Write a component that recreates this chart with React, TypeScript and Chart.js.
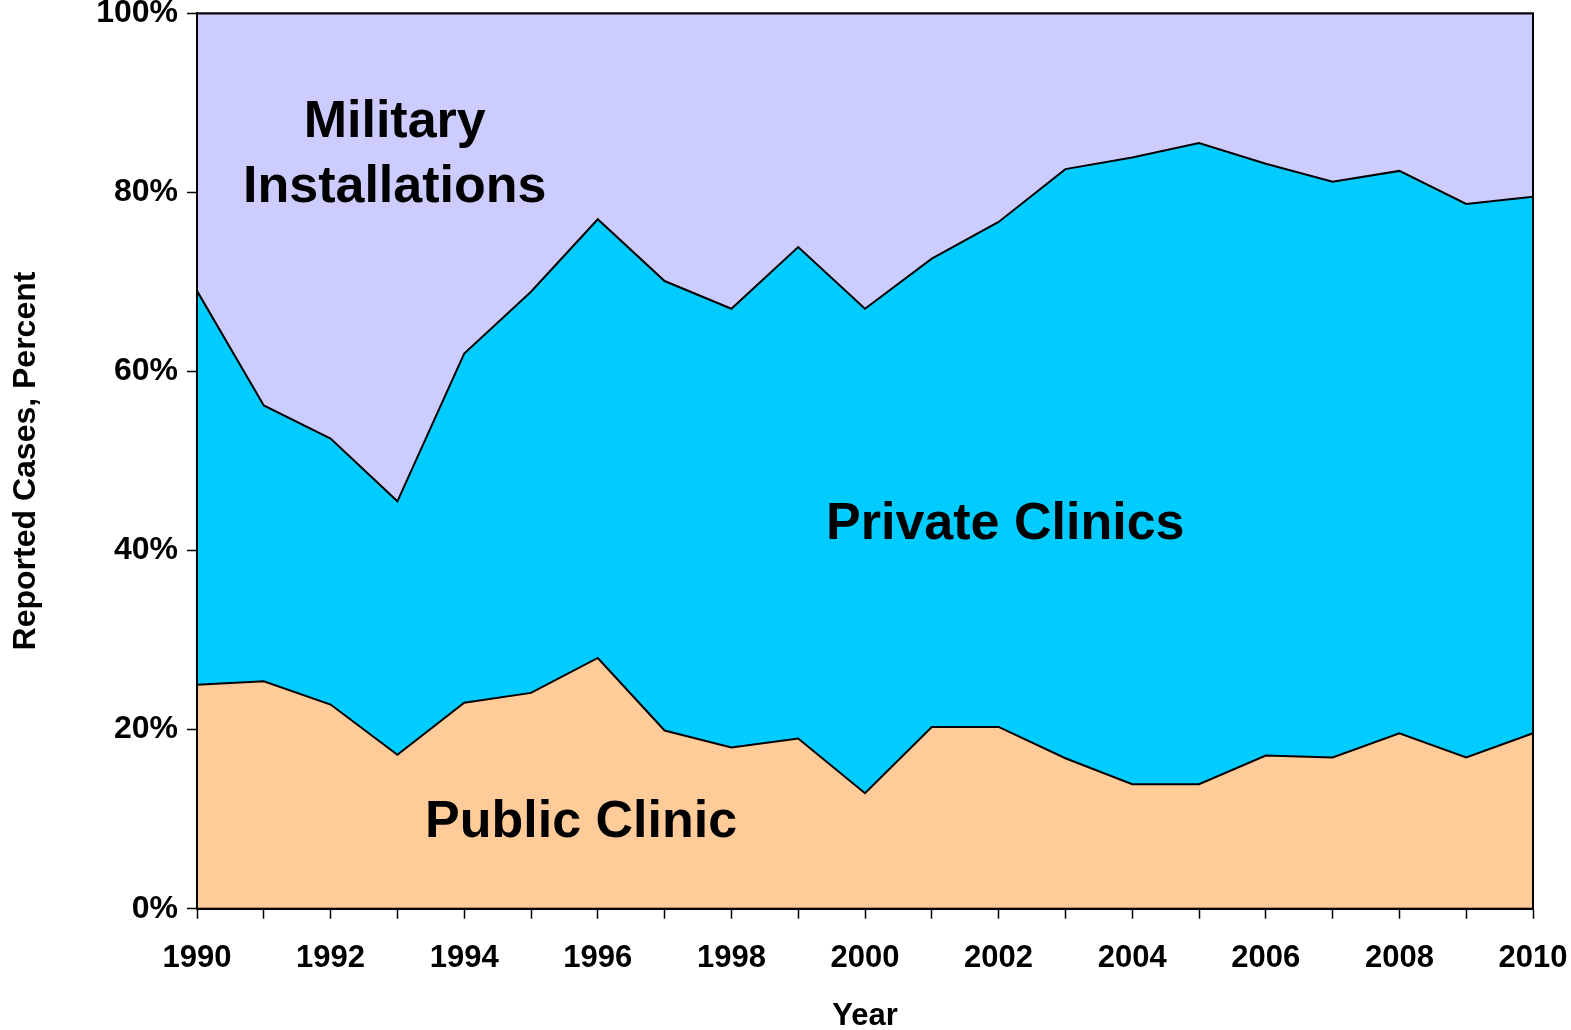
import React, { useEffect, useRef } from "react";
import { Chart, registerables } from "chart.js";

Chart.register(...registerables);

const years = [
  "1990", "1991", "1992", "1993", "1994", "1995", "1996", "1997", "1998", "1999",
  "2000", "2001", "2002", "2003", "2004", "2005", "2006", "2007", "2008", "2009", "2010",
];

const publicClinic = [
  25.0, 25.4, 22.8, 17.2, 23.0, 24.1, 28.0, 19.9, 18.0, 19.0,
  12.9, 20.3, 20.3, 16.8, 13.9, 13.9, 17.1, 16.9, 19.6, 16.9, 19.6,
];

const privateClinics = [
  44.0, 30.8, 29.7, 28.3, 39.0, 44.8, 49.0, 50.2, 49.0, 54.9,
  54.1, 52.3, 56.4, 65.8, 70.0, 71.6, 66.1, 64.3, 62.8, 61.8, 59.9,
];

const militaryInstallations = [
  31.0, 43.8, 47.5, 54.5, 38.0, 31.1, 23.0, 29.9, 33.0, 26.1,
  33.0, 27.4, 23.3, 17.4, 16.1, 14.5, 16.8, 18.8, 17.6, 21.3, 20.5,
];

const seriesNames = ["Public Clinic", "Private Clinics", "Military Installations"];
const seriesColors = ["#FFCC99", "#00CCFF", "#CCCCFF"];

const yTickValues = [0, 20, 40, 60, 80, 100];

const FONT = '"Liberation Sans", Arial, Helvetica, sans-serif';

// in-chart area labels, anchored in data units (category index, percent)
const areaLabels = [
  { text: "Military", x: 2.96, y: 87.8 },
  { text: "Installations", x: 2.96, y: 80.5 },
  { text: "Private Clinics", x: 12.1, y: 42.9 },
  { text: "Public Clinic", x: 5.75, y: 9.6 },
];

const areaLabelPlugin = {
  id: "areaLabelPlugin",
  afterDatasetsDraw(chart: any) {
    const { ctx, chartArea, scales } = chart;
    const xs = scales.x;
    const ys = scales.y;
    ctx.save();
    // chart area frame
    ctx.strokeStyle = "#000";
    ctx.lineWidth = 2;
    ctx.strokeRect(chartArea.left, chartArea.top, chartArea.right - chartArea.left, chartArea.bottom - chartArea.top);
    ctx.fillStyle = "#000";
    ctx.font = `bold 52px ${FONT}`;
    ctx.textAlign = "center";
    ctx.textBaseline = "middle";
    for (const l of areaLabels) {
      ctx.fillText(l.text, xs.getPixelForValue(l.x), ys.getPixelForValue(l.y));
    }
    ctx.restore();
  },
};

export default function App() {
  const canvasRef = useRef<HTMLCanvasElement | null>(null);

  useEffect(() => {
    if (!canvasRef.current) return;
    const seriesData = [publicClinic, privateClinics, militaryInstallations];
    const chart = new Chart(canvasRef.current, {
      type: "line",
      data: {
        labels: years,
        datasets: seriesData.map((d, i) => ({
          label: seriesNames[i],
          data: d,
          backgroundColor: seriesColors[i],
          borderColor: "#000",
          borderWidth: 2,
          pointRadius: 0,
          tension: 0,
          fill: i === 0 ? "origin" : "-1",
        })),
      },
      options: {
        responsive: false,
        animation: false,
        events: [],
        layout: { padding: { top: 13.3, right: 38, left: 0, bottom: 0 } },
        plugins: {
          legend: { display: false },
          tooltip: { enabled: false },
        },
        scales: {
          x: {
            type: "category",
            offset: false,
            grid: {
              display: true,
              drawOnChartArea: false,
              drawTicks: true,
              tickLength: 10,
              tickColor: "#000",
              tickWidth: 1.5,
            },
            border: { display: true, color: "#000", width: 2 },
            ticks: {
              autoSkip: false,
              maxRotation: 0,
              padding: 21,
              color: "#000",
              font: { family: FONT, size: 31, weight: "bold" },
              callback: (_v: any, i: number) => (i % 2 === 0 ? years[i] : ""),
            },
            title: {
              display: true,
              text: "Year",
              color: "#000",
              font: { family: FONT, size: 31, weight: "bold", lineHeight: 0.9 },
              padding: { top: 0, bottom: 0 },
            },
            afterFit: (scale: any) => {
              scale.height = 121.3;
              scale.paddingLeft = 0;
              scale.paddingRight = 0;
            },
          },
          y: {
            stacked: true,
            min: 0,
            max: 100,
            grid: {
              display: true,
              drawOnChartArea: false,
              drawTicks: true,
              tickLength: 10,
              tickColor: "#000",
              tickWidth: 1.5,
            },
            border: { display: true, color: "#000", width: 2 },
            afterBuildTicks: (scale: any) => {
              scale.ticks = yTickValues.map((v) => ({ value: v }));
            },
            ticks: {
              padding: 9,
              color: "#000",
              font: { family: FONT, size: 32, weight: "bold" },
              callback: (v: any) => `${v}%`,
            },
            title: {
              display: true,
              text: "Reported Cases, Percent",
              color: "#000",
              font: { family: FONT, size: 32, weight: "bold" },
              padding: { top: 7, bottom: 0 },
            },
            afterFit: (scale: any) => {
              scale.width = 197;
              scale.paddingTop = 0;
              scale.paddingBottom = 0;
            },
          },
        },
      } as any,
      plugins: [areaLabelPlugin],
    });
    return () => chart.destroy();
  }, []);

  return (
    <div style={{ position: "fixed", left: 0, top: 0, width: 1571, height: 1030, background: "#fff" }}>
      <canvas ref={canvasRef} width={1571} height={1030} style={{ width: 1571, height: 1030, display: "block" }} />
    </div>
  );
}
